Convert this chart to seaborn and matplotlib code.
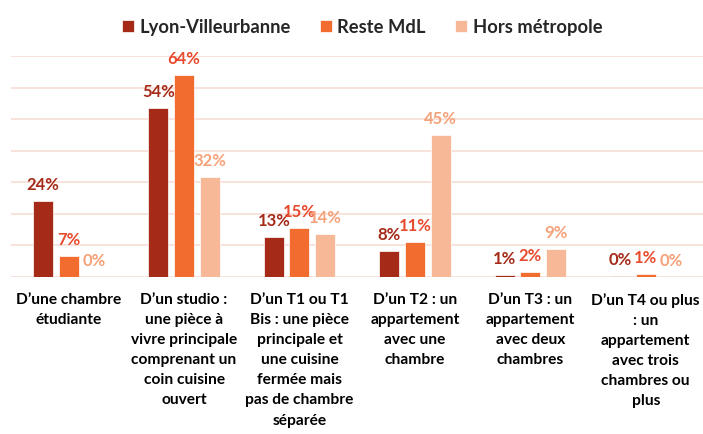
import matplotlib
matplotlib.use("Agg")
import matplotlib.pyplot as plt
import seaborn as sns
import pandas as pd

categories = [
    "D\u2019une chambre\nétudiante",
    "D\u2019un studio :\nune pièce à\nvivre principale\ncomprenant un\ncoin cuisine\nouvert",
    "D\u2019un T1 ou T1\nBis : une pièce\nprincipale et\nune cuisine\nfermée mais\npas de chambre\nséparée",
    "D\u2019un T2 : un\nappartement\navec une\nchambre",
    "D\u2019un T3 : un\nappartement\navec deux\nchambres",
    "D\u2019un T4 ou plus\n: un\nappartement\navec trois\nchambres ou\nplus",
]
series = ["Lyon-Villeurbanne", "Reste MdL", "Hors métropole"]
lyon = [24.2, 53.6, 12.6, 8.1, 0.6, 0.3]
reste = [6.6, 64.0, 15.4, 11.0, 1.6, 0.8]
hors = [0.0, 31.6, 13.6, 45.1, 9.0, 0.0]

bar_colors = ["#A52A18", "#F26B2F", "#F7B898"]
label_colors = ["#A52A18", "#E84A2E", "#F5A27A"]

df = pd.DataFrame({
    "cat": categories * 3,
    "serie": [series[0]] * 6 + [series[1]] * 6 + [series[2]] * 6,
    "val": lyon + reste + hors,
})

sns.set_theme(style="white")
plt.rcParams["font.family"] = ["Lato", "DejaVu Sans"]

fig = plt.figure(figsize=(7.03, 4.35), dpi=100)
ax = fig.add_axes([0.0156, 0.361, 0.985, 0.507])

sns.barplot(data=df, x="cat", y="val", hue="serie", order=categories,
            hue_order=series, palette=bar_colors, saturation=1,
            width=0.667, gap=0.22, ax=ax, edgecolor="white",
            linewidth=0.5, errorbar=None)

for cont, col in zip(ax.containers, label_colors):
    ax.bar_label(cont, labels=[f"{b.get_height():.0f}%" for b in cont],
                 padding=6.5, color=col, fontweight="bold", fontsize=12)

ax.set_ylim(0, 70)
ax.set_yticks(range(0, 71, 10))
ax.set_yticklabels([])
ax.yaxis.grid(True, color="#F7DDD6", linewidth=1.2)
ax.set_axisbelow(True)
for s in ax.spines.values():
    s.set_visible(False)
ax.set_xlabel("")
ax.set_ylabel("")
ax.tick_params(axis="x", length=0, pad=11)
ax.tick_params(axis="y", length=0)
for t in ax.get_xticklabels():
    t.set_fontweight("bold")
    t.set_fontsize(11.2)
    t.set_linespacing(1.55)
    t.set_color("black")

handles, labels = ax.get_legend_handles_labels()
ax.legend(handles, labels, loc="center", bbox_to_anchor=(0.515, 0.936),
          bbox_transform=fig.transFigure, ncol=3, frameon=False,
          handlelength=0.65, handleheight=0.65, handletextpad=0.3,
          columnspacing=1.6, prop={"weight": "bold", "size": 13.2})

fig.savefig("out.png", dpi=100)
